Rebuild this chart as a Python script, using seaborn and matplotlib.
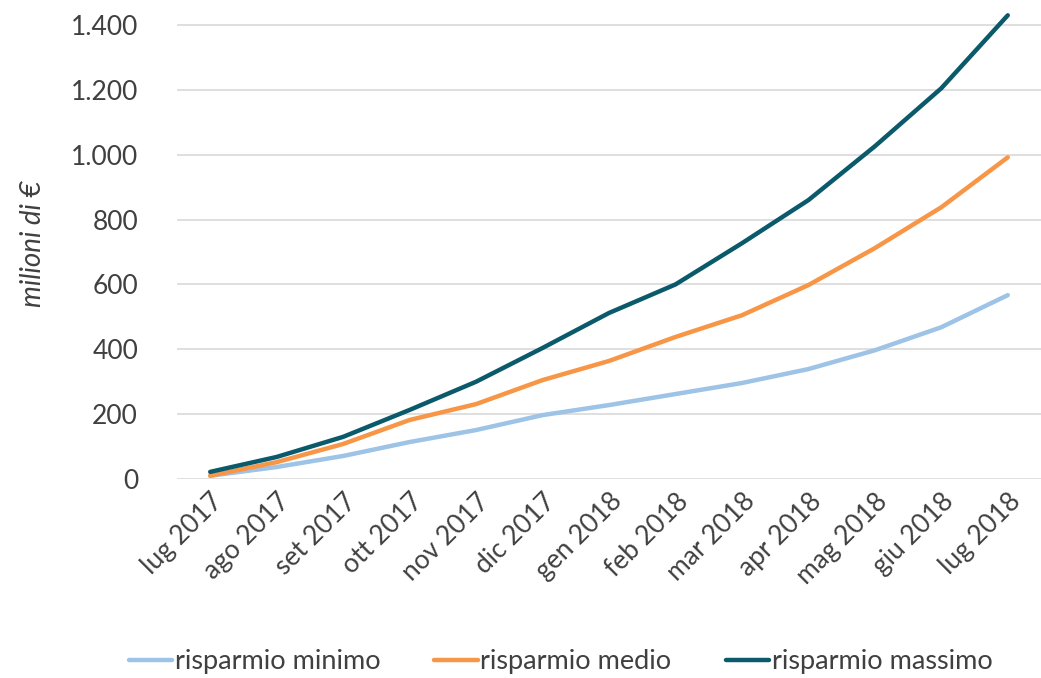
import pandas as pd
import seaborn as sns
import matplotlib.pyplot as plt
from matplotlib.ticker import FuncFormatter

# values (milioni di €)
mesi = ['lug 2017', 'ago 2017', 'set 2017', 'ott 2017', 'nov 2017', 'dic 2017',
        'gen 2018', 'feb 2018', 'mar 2018', 'apr 2018', 'mag 2018', 'giu 2018', 'lug 2018']
minimo = [10, 37, 71, 114, 151, 197, 228, 262, 296, 339, 397, 468, 567]
medio = [10, 52, 108, 182, 231, 305, 364, 438, 505, 598, 712, 838, 992]
massimo = [22, 68, 130, 213, 300, 404, 512, 600, 727, 860, 1026, 1205, 1430]

serie = ['risparmio minimo', 'risparmio medio', 'risparmio massimo']
colori = ['#9DC3E6', '#F79646', '#0B5A6B']

df = pd.DataFrame({'mese': mesi * 3,
                   'valore': minimo + medio + massimo,
                   'serie': [s for s in serie for _ in mesi]})
df['x'] = list(range(len(mesi))) * 3

sns.set_style('white')
plt.rcParams['font.family'] = ['Lato', 'DejaVu Sans']
testo = '#404040'

fig = plt.figure(figsize=(10.41, 6.78), dpi=100)
ax = fig.add_axes([0.170, 0.2935, 0.830, 0.6935])

sns.lineplot(data=df, x='x', y='valore', hue='serie', hue_order=serie,
             palette=colori, linewidth=3.2, ax=ax, legend=True)

ax.set_xlim(-0.5, len(mesi) - 0.5)
ax.set_ylim(0, 1450)
ax.set_yticks(range(0, 1401, 200))
ax.yaxis.set_major_formatter(FuncFormatter(lambda v, p: f'{int(v):,}'.replace(',', '.')))
ax.set_xticks(range(len(mesi)))
ax.set_xticklabels(mesi, rotation=45, ha='right', rotation_mode='anchor')
ax.tick_params(axis='both', labelsize=19, colors=testo, length=0)
ax.tick_params(axis='x', pad=7)
ax.tick_params(axis='y', pad=28)
ax.grid(axis='y', color='#D9D9D9', linewidth=1.2)
ax.set_axisbelow(True)
for s in ax.spines.values():
    s.set_visible(False)

ax.set_xlabel('')
ax.set_ylabel('milioni di €', fontsize=20, style='italic', color=testo, labelpad=18)

ax.legend(loc='center', bbox_to_anchor=(0.444, -0.389), ncol=3, frameon=False,
          fontsize=19.5, handlelength=1.6, handletextpad=0.1, columnspacing=2.0,
          labelcolor=testo)

plt.savefig('out.png', dpi=100)
